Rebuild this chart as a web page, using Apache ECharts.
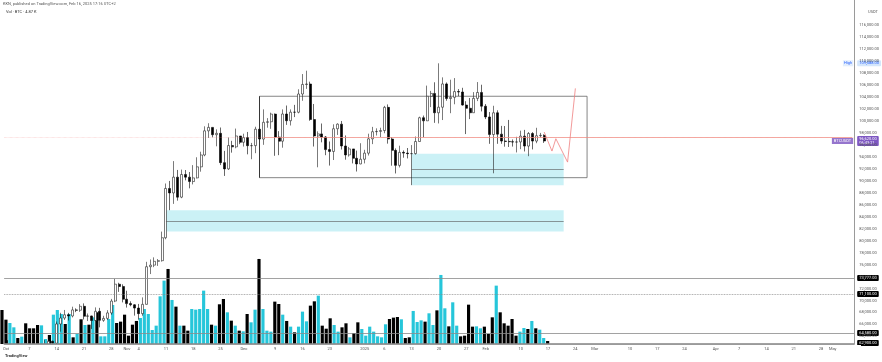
<!DOCTYPE html>
<html><head><meta charset="utf-8">
<script src="https://cdn.jsdelivr.net/npm/echarts@6/dist/echarts.min.js"></script>
<style>html,body{margin:0;padding:0;background:#fff}#c{width:882px;height:362px}</style>
</head><body><div id="c"></div>
<script>
// ---- data ----
const firstDay = [2024, 9, 1];       // 2024-10-01 (UTC)
const dayCount = 218;                // visible daily slots incl. empty future space
// [open, high, low, close] per day, 2024-10-01 .. 2025-02-16
const ohlc = [
[63327,64130,60164,60806],[60805,62370,59981,60649],[60649,61469,59828,60752],[60752,62485,60460,62086],
[62086,62370,61689,62058],[62058,62975,61798,62819],[62819,64479,62128,62225],[62225,63200,61860,62160],
[62160,62543,60300,60636],[60636,61321,58946,60326],[60326,63417,60087,62540],[62540,63480,62487,63206],
[63206,63285,62050,62870],[62870,66500,62457,66083],[66083,67950,64800,67074],[67074,68424,66750,67620],
[67620,67939,66666,67421],[67421,68969,67177,68428],[68428,68692,68057,68378],[68378,69400,68100,69031],
[69031,69519,66840,67377],[67377,67836,66571,67426],[67426,67472,65260,66668],[66668,68850,66559,68198],
[68198,68771,65521,66699],[66699,67454,66439,67015],[67015,68387,66751,67930],[67930,70270,67618,69907],
[69907,73620,69730,72720],[72720,72961,71436,72339],[72339,72700,69685,70215],
[70216,71632,68820,69482],[69486,69868,69035,69289],[69289,69391,67478,68741],[68742,69433,66803,67811],
[67811,70522,67458,69359],[69359,76460,69322,75640],[75640,76850,74416,75904],[75904,77199,75565,76538],
[76538,76922,75774,76649],[76649,81500,76490,80475],[80475,89530,80217,88701],[88700,89956,85072,87955],
[87955,93265,86127,90585],[90585,91790,86668,87251],[87251,91850,87073,91032],[91032,91779,90056,90587],
[90587,91449,88722,89855],[89855,92594,89376,90465],[90465,93905,90371,92310],[92310,94831,91500,94286],
[94287,99073,94072,98317],[98317,99588,97122,98893],[98893,98925,97232,97673],[97673,98565,95734,97900],
[97900,98871,92600,93010],[93010,94973,90791,91966],[91966,97208,91792,95863],[95864,96650,94677,95643],
[95643,98693,95407,97460],[97460,97463,96090,96407],
[96407,97836,95693,97185],[97185,98130,94395,95840],[95840,96305,93578,95849],[95849,99000,94587,98587],
[98587,104088,90500,96945],[96945,101898,95981,99740],[99740,100439,98844,99831],[99831,101350,98657,101109],
[101109,101215,94150,97276],[97276,98270,94256,96593],[96593,101895,95503,101125],[101125,102540,99311,100004],
[100004,101895,99205,101424],[101424,102650,100610,101421],[101420,105250,101237,104463],[104463,107793,103333,106058],
[106058,108353,105321,106133],[106133,106524,100000,100204],[100204,102800,95700,97461],[97461,98233,92232,97805],
[97805,99540,96398,97291],[97292,97448,94250,95186],[95187,96538,92520,94877],[94878,99405,93446,98663],
[98663,99569,97632,99430],[99430,99963,95200,95791],[95791,97544,93500,94299],[94299,95630,94016,95300],
[95300,95300,92881,93738],[93738,95024,91530,92792],[92792,96250,92750,93576],
[93576,95151,92880,94591],[94592,97840,94200,96984],[96985,98976,96100,98174],[98175,98734,97535,98220],
[98220,98836,97277,98364],[98364,102480,97914,102235],[102235,102724,96181,96954],[96954,97258,92500,95060],
[95061,95385,91203,92553],[92553,95837,92206,94726],[94727,95050,93831,94599],[94599,95450,93711,94511],
[94511,95940,89256,94518],[94519,97371,94346,96534],[96534,100681,96500,100505],[100505,100873,97255,99988],
[99988,105865,99950,104077],[104078,104988,102277,104557],[104557,106422,99651,101331],[101331,109588,99550,102260],
[102261,107240,100119,106143],[106144,106394,103339,103706],[103706,106850,101262,103910],[103910,107120,102750,104871],
[104871,105286,104106,104796],[104796,105500,102520,102620],[102620,103260,97777,102082],[102082,103800,100272,101335],
[101336,104782,101328,103733],[103733,106457,103278,104722],[104722,106012,101560,102429],
[102430,102783,100279,100635],[100635,101456,96150,97700],[97700,102500,91231,101328],[101328,101745,96150,97763],
[97763,99149,96155,96612],[96612,99120,95676,96555],[96555,100137,95620,96500],[96500,96880,95688,96444],
[96444,97323,94713,96462],[96463,98345,95256,97430],[97430,98478,94876,95778],[95778,98119,94088,97870],
[97870,98100,95217,96608],[96608,98826,96252,97500],[97500,97972,97223,97569],[97569,97733,96300,96620]
];
// daily volume, thousands of BTC
const volumesK = [
55.1,39.4,34.0,27.0,9.7,11.9,33.5,25.4,25.4,30.8,
30.2,8.1,14.6,47.5,55.1,48.6,32.4,48.6,10.8,16.2,
40.0,30.8,31.3,43.2,51.3,12.4,12.4,40.5,63.2,34.0,
36.2,47.5,13.5,31.3,37.3,42.1,56.7,48.6,22.7,29.7,
77.2,102.6,121.5,71.3,60.5,29.7,29.7,21.6,56.7,55.6,
56.7,86.4,56.7,31.3,29.7,64.3,72.9,51.3,37.8,29.7,
21.6,20.5,48.6,35.1,55.6,137.7,56.7,21.6,20.0,68.6,
64.8,47.5,37.3,28.1,18.9,28.1,52.4,36.7,62.1,69.1,
78.3,29.7,24.8,41.6,30.8,20.0,27.0,33.5,10.8,17.8,
35.1,24.3,13.5,28.1,20.0,12.4,10.8,31.9,40.5,42.7,
43.7,40.0,9.7,10.8,53.5,35.6,38.3,36.2,49.7,30.8,
54.5,111.8,57.8,28.6,67.5,29.7,12.4,13.5,63.7,28.1,
28.6,25.4,28.1,16.2,43.2,94.5,51.3,33.5,29.7,40.5,
13.5,20.0,25.9,24.3,37.3,25.4,23.2,9.7,4.87
];
const tickDates = ['2024-10-01','2024-10-07','2024-10-14','2024-10-21','2024-10-28','2024-11-01','2024-11-04','2024-11-11',
 '2024-11-18','2024-11-25','2024-12-01','2024-12-09','2024-12-16','2024-12-23','2025-01-01','2025-01-06','2025-01-13',
 '2025-01-20','2025-01-27','2025-02-01','2025-02-10','2025-02-17','2025-02-24','2025-03-01','2025-03-10','2025-03-17',
 '2025-03-24','2025-04-01','2025-04-07','2025-04-14','2025-04-21','2025-04-28','2025-05-01'];
const tickLabels = ['Oct','7','14','21','28','Nov','4','11','18','25','Dec','9','16','23','2025','6','13',
 '20','27','Feb','10','17','24','Mar','10','17','24','Apr','7','14','21','28','May'];
const priceTicks = [64000,66000,68000,70000,72000,74000,76000,78000,80000,82000,84000,86000,88000,90000,92000,
 94000,96000,98000,100000,102000,104000,106000,108000,110000,112000,114000,116000];
const priceRange = [62742, 120152];
const volumeRange = [0, 557];
const rangeBoxDates = ['2024-12-05','2025-02-27'];
const rangeBoxPrices = [104088, 90500];
const zone1Dates = ['2025-01-13','2025-02-21'];
const zone1Prices = [94511, 89256];
const zone2Dates = ['2024-11-11','2025-02-21'];
const zone2Prices = [85072, 81500];
const refLineStart = '2024-12-06';
const refLinePrice = 97288;
const levelPrices = [73777, 71100, 64580, 62900];
const levelLabels = ['73,777.00','71,100.00','64,580.00','62,900.00'];
const levelDashed = [false, true, false, false];
const highPrice = 109588;
const lastPrice = 96620;
const pathDates = ['2025-02-16','2025-02-18','2025-02-19','2025-02-22','2025-02-24'];
const pathPrices = [98120, 94940, 97000, 93100, 105400];

// ---- build ----
const FONT = 'Roboto, "Liberation Sans", sans-serif';
const CYAN = '#26c6da';
const categories = [];
for (let i = 0; i < dayCount; i++) {
  const d = new Date(Date.UTC(firstDay[0], firstDay[1], firstDay[2] + i));
  categories.push(d.toISOString().slice(0, 10));
}
const tickMap = {};
tickDates.forEach((d, i) => { tickMap[d] = tickLabels[i]; });
const candleData = ohlc.map(r => [r[0], r[3], r[2], r[1]]);
const volData = volumesK.map((v, i) => ({
  value: v, itemStyle: { color: ohlc[i][3] >= ohlc[i][0] ? CYAN : '#000' }
}));
const fmt = v => v.toLocaleString('en-US', { minimumFractionDigits: 2, maximumFractionDigits: 2 });
const lastDate = categories[categories.length - 1];
const hidden = { color: 'rgba(0,0,0,0)', width: 0 };
const tag = (text, bg, fg) => ({ show: true, position: 'end', distance: 3, formatter: text, backgroundColor: bg,
  color: fg, fontSize: 4, fontFamily: FONT, padding: [1, 2, 1, 2], borderRadius: 1 });

const markLines = [
  { yAxis: refLinePrice, lineStyle: { type: 'dotted', color: 'rgba(239,128,128,0.55)', width: 0.6 }, label: { show: false } },
  [{ coord: [refLineStart, refLinePrice], lineStyle: { type: 'solid', color: '#ef8a80', width: 0.7 }, label: { show: false } },
   { coord: [lastDate, refLinePrice] }],
  [{ coord: [zone1Dates[0], (zone1Prices[0] + zone1Prices[1]) / 2], lineStyle: { type: 'solid', color: '#555', width: 0.6 }, label: { show: false } },
   { coord: [zone1Dates[1], (zone1Prices[0] + zone1Prices[1]) / 2] }],
  [{ coord: [zone2Dates[0], (zone2Prices[0] + zone2Prices[1]) / 2], lineStyle: { type: 'solid', color: '#555', width: 0.6 }, label: { show: false } },
   { coord: [zone2Dates[1], (zone2Prices[0] + zone2Prices[1]) / 2] }],
  { yAxis: highPrice, lineStyle: hidden, label: tag(fmt(highPrice), '#d4e6fb', '#2962ff') },
  { yAxis: highPrice, lineStyle: hidden, label: { show: true, position: 'insideEnd', distance: 1, formatter: 'High',
      color: '#2962ff', fontSize: 4, fontFamily: FONT, backgroundColor: '#e3eefc', padding: [1, 1, 1, 1] } },
  { yAxis: lastPrice, lineStyle: hidden, label: tag(fmt(lastPrice) + '\n06:43:21', '#7e57c2', '#fff') },
  { yAxis: lastPrice, lineStyle: hidden, label: { show: true, position: 'insideEnd', distance: 1, formatter: 'BTCUSDT',
      color: '#fff', fontSize: 4, fontFamily: FONT, backgroundColor: '#9575cd', padding: [1, 2, 1, 2] } }
];
levelPrices.forEach((p, i) => {
  markLines.push({ yAxis: p, lineStyle: { type: levelDashed[i] ? 'dotted' : 'solid', color: '#8a8a8a', width: 0.8 },
    label: tag(levelLabels[i], '#000', '#fff') });
});

const option = {
  animation: false,
  backgroundColor: '#fff',
  title: [
    { text: 'KKN, published on TradingView.com, Feb 16, 2025 17:16 UTC+2', left: 3, top: 2, padding: 0,
      textStyle: { fontSize: 4, fontWeight: 'normal', color: '#555', fontFamily: FONT } },
    { text: 'Vol · BTC · 4.87 K', left: 6, top: 10, padding: 0,
      textStyle: { fontSize: 4, fontWeight: 'normal', color: '#333', fontFamily: FONT } }
  ],
  graphic: [
    { type: 'rect', left: 0, top: 345, z: 50, silent: true,
      shape: { width: 861, height: 17 }, style: { fill: '#ffffff' } },
    { type: 'text', right: 4, top: 10, z: 70, style: { text: 'USDT', fontSize: 4, fill: '#555', fontFamily: FONT } },
    { type: 'text', left: 5, top: 354, z: 70, style: { text: 'TradingView', fontSize: 4, fill: '#333', fontWeight: 'bold', fontFamily: FONT } }
  ],
  grid: [
    { left: 0, right: 20, top: 0, bottom: 18 },
    { left: 0, right: 20, top: 0, bottom: 18 }
  ],
  xAxis: [
    { type: 'category', data: categories, gridIndex: 0, boundaryGap: true, z: 60,
      axisLine: { show: true, lineStyle: { color: '#9a9a9a', width: 1 } },
      axisTick: { show: false }, splitLine: { show: false },
      axisLabel: { interval: (idx, val) => tickMap[val] !== undefined, formatter: val => tickMap[val] || '',
        fontSize: 4, color: '#555', margin: 3, fontFamily: FONT, hideOverlap: false } },
    { type: 'category', data: categories, gridIndex: 1, show: false }
  ],
  yAxis: [
    { type: 'value', gridIndex: 0, position: 'right', min: priceRange[0], max: priceRange[1], scale: true, z: 60,
      splitLine: { show: false }, axisTick: { show: false },
      axisLine: { show: true, lineStyle: { color: '#9a9a9a', width: 1 } },
      axisLabel: { customValues: priceTicks, formatter: v => fmt(v), fontSize: 4, color: '#555', margin: 5, fontFamily: FONT } },
    { type: 'value', gridIndex: 1, min: volumeRange[0], max: volumeRange[1], show: false, splitLine: { show: false } }
  ],
  series: [
    { name: 'Vol', type: 'bar', xAxisIndex: 1, yAxisIndex: 1, data: volData, barWidth: '80%', z: 1, clip: true },
    { name: 'BTC', type: 'candlestick', xAxisIndex: 0, yAxisIndex: 0, data: candleData, barWidth: '64%', z: 3, clip: true,
      itemStyle: { color: '#ffffff', color0: '#000000', borderColor: '#222', borderColor0: '#000', borderWidth: 0.6 },
      markArea: { silent: true, data: [
        [{ xAxis: rangeBoxDates[0], yAxis: rangeBoxPrices[0], itemStyle: { color: 'rgba(0,0,0,0)', borderColor: '#666', borderWidth: 0.8 } },
         { xAxis: rangeBoxDates[1], yAxis: rangeBoxPrices[1] }],
        [{ xAxis: zone1Dates[0], yAxis: zone1Prices[0], itemStyle: { color: 'rgba(38,198,218,0.24)' } },
         { xAxis: zone1Dates[1], yAxis: zone1Prices[1] }],
        [{ xAxis: zone2Dates[0], yAxis: zone2Prices[0], itemStyle: { color: 'rgba(38,198,218,0.24)' } },
         { xAxis: zone2Dates[1], yAxis: zone2Prices[1] }]
      ] },
      markLine: { silent: true, symbol: ['none', 'none'], precision: 2, data: markLines }
    },
    { name: 'Path', type: 'line', xAxisIndex: 0, yAxisIndex: 0, symbol: 'none', z: 4,
      data: pathDates.map((d, i) => [d, pathPrices[i]]),
      lineStyle: { color: '#ef7f7f', width: 0.8 } }
  ]
};
const chart = echarts.init(document.getElementById('c'), null, { renderer: 'canvas' });
chart.setOption(option);
</script>
</body></html>
